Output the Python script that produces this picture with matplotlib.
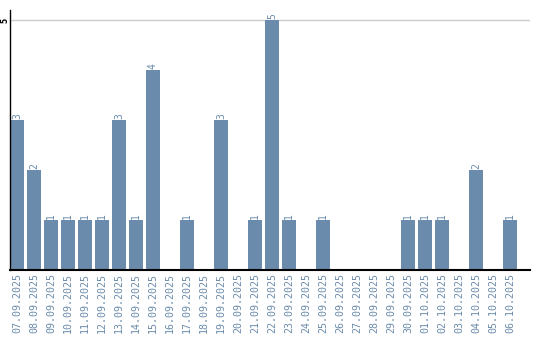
import numpy as np
import matplotlib.pyplot as plt

dates = ['07.09.2025', '08.09.2025', '09.09.2025', '10.09.2025', '11.09.2025',
         '12.09.2025', '13.09.2025', '14.09.2025', '15.09.2025', '16.09.2025',
         '17.09.2025', '18.09.2025', '19.09.2025', '20.09.2025', '21.09.2025',
         '22.09.2025', '23.09.2025', '24.09.2025', '25.09.2025', '26.09.2025',
         '27.09.2025', '28.09.2025', '29.09.2025', '30.09.2025', '01.10.2025',
         '02.10.2025', '03.10.2025', '04.10.2025', '05.10.2025', '06.10.2025']
counts = [3, 2, 1, 1, 1, 1, 3, 1, 4, 0,
          1, 0, 3, 0, 1, 5, 1, 0, 1, 0,
          0, 0, 0, 1, 1, 1, 0, 2, 0, 1]

bar_col = '#6a8bab'
txt_col = '#6a8bab'

fig = plt.figure(figsize=(5.4, 3.4), dpi=100)
ax = fig.add_axes([10/540, 70/340, 520/540, 260/340])

x = np.arange(len(dates))
w = 14/17
ax.bar(x, counts, width=w, align='edge', color=bar_col, zorder=2)

for xi, v in zip(x, counts):
    if v > 0:
        ax.text(xi + w/2, v + 0.02, str(v), rotation=90, ha='center', va='bottom',
                color=txt_col, fontsize=7, family='DejaVu Sans Mono')

ax.set_xlim(0, 520/17)
ax.set_ylim(0, 5.2)
ax.set_xticks(x + w/2)
ax.set_xticklabels(dates, rotation=90, fontsize=7.2, color=txt_col, family='DejaVu Sans Mono')
ax.set_yticks([5])
ax.set_yticklabels(['5'], rotation=90, fontsize=5.5, va='center', fontweight='bold')
ax.tick_params(length=0, pad=2)
ax.tick_params(axis='y', pad=0.5)
ax.axhline(5, color='#cccccc', lw=1, zorder=1)
for s in ['top', 'right']:
    ax.spines[s].set_visible(False)
ax.spines['left'].set_linewidth(1)
ax.spines['bottom'].set_linewidth(1.5)

fig.savefig('out.png', dpi=100)
